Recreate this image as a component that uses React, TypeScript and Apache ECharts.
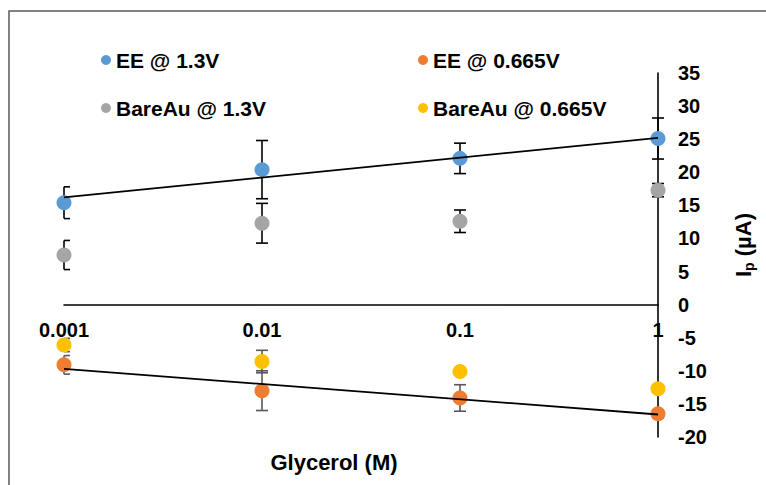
import React, { useEffect, useRef } from "react";
import * as echarts from "echarts";

const xValues = [0.001, 0.01, 0.1, 1];
const xTickLabels = ["0.001", "0.01", "0.1", "1"];

const ee13 = [15.4, 20.4, 22.1, 25.1];
const ee13Err = [2.4, 4.4, 2.3, 3.1];
const ee0665 = [-9.1, -13.0, -14.1, -16.5];
const ee0665Err = [1.4, 3.0, 2.0, 0.6];
const bare13 = [7.5, 12.3, 12.6, 17.3];
const bare13Err = [2.2, 3.0, 1.7, 1.0];
const bare0665 = [-6.1, -8.6, -10.1, -12.7];
const bare0665Err = [1.0, 1.7, 0.5, 0.5];

const trendX = [0.001, 1];
const trendEE13 = [16.2, 25.2];
const trendEE0665 = [-9.7, -16.6];

const seriesNames = ["EE @ 1.3V", "EE @ 0.665V", "BareAu @ 1.3V", "BareAu @ 0.665V"];
const colors = ["#5B9BD5", "#ED7D31", "#A5A5A5", "#FFC000"];

const Y_MIN = -20;
const Y_MAX = 35;
const GRID_TOP = 73;
const GRID_BOTTOM = 48;
const H = 485;

const FONT = "'Liberation Sans', Arial, sans-serif";

function errData(vals: number[], errs: number[]) {
  return xValues.map((x, i) => [x, vals[i] - errs[i], vals[i] + errs[i]]);
}

function errSeries(vals: number[], errs: number[], color: string) {
  return {
    type: "custom",
    silent: true,
    z: 1,
    encode: { x: 0, y: [1, 2] },
    data: errData(vals, errs),
    renderItem: (params: any, api: any) => {
      const x = api.value(0);
      const lo = api.coord([x, api.value(1)]);
      const hi = api.coord([x, api.value(2)]);
      const left = params.coordSys.x;
      const half = 6;
      const x1 = Math.max(lo[0] - half, left);
      const x2 = lo[0] + half;
      const style = { stroke: color, lineWidth: 1.6 };
      return {
        type: "group",
        children: [
          { type: "line", shape: { x1: lo[0], y1: lo[1], x2: hi[0], y2: hi[1] }, style },
          { type: "line", shape: { x1, y1: lo[1], x2, y2: lo[1] }, style },
          { type: "line", shape: { x1, y1: hi[1], x2, y2: hi[1] }, style },
        ],
      };
    },
  };
}

function scatter(name: string, vals: number[], color: string) {
  return {
    name,
    type: "scatter",
    symbol: "circle",
    symbolSize: 15,
    z: 3,
    itemStyle: { color, opacity: 1 },
    data: xValues.map((x, i) => [x, vals[i]]),
  };
}

function trend(vals: number[]) {
  return {
    type: "line",
    silent: true,
    z: 5,
    symbol: "none",
    lineStyle: { color: "#000", width: 1.8 },
    data: trendX.map((x, i) => [x, vals[i]]),
  };
}

export default function App() {
  const ref = useRef<HTMLDivElement>(null);
  useEffect(() => {
    document.body.style.margin = "0";
    const chart = echarts.init(ref.current!, null, { renderer: "svg" });
    const legendText = { fontFamily: FONT, fontWeight: "bold", fontSize: 21, color: "#000", lineHeight: 22 };
    const legendPos = [
      { left: 96, top: 44 },
      { left: 413, top: 44 },
      { left: 96, top: 92 },
      { left: 413, top: 92 },
    ];
    const gridH = H - GRID_TOP - GRID_BOTTOM;
    // move the x axis up from the grid bottom to the y = 0 line
    const zeroOffset = -((0 - Y_MIN) / (Y_MAX - Y_MIN)) * gridH;
    const option: any = {
      animation: false,
      backgroundColor: "#fff",
      grid: { left: 64, right: 108, top: GRID_TOP, bottom: GRID_BOTTOM },
      legend: seriesNames.map((n, i) => ({
        data: [n],
        ...legendPos[i],
        icon: "circle",
        itemWidth: 10,
        itemHeight: 10,
        selectedMode: false,
        textStyle: legendText,
      })),
      xAxis: {
        type: "log",
        logBase: 10,
        min: 0.001,
        max: 1,
        offset: zeroOffset,
        axisLine: { onZero: false, lineStyle: { color: "#000", width: 1.6 } },
        axisTick: { show: false },
        splitLine: { show: false },
        axisLabel: {
          margin: 15,
          fontFamily: FONT,
          fontWeight: "bold",
          fontSize: 20,
          color: "#000",
          formatter: (v: number) => xTickLabels[Math.round(Math.log10(v)) + 3] ?? "",
        },
      },
      yAxis: {
        type: "value",
        position: "right",
        min: Y_MIN,
        max: Y_MAX,
        interval: 5,
        axisLine: { show: true, onZero: false, lineStyle: { color: "#000", width: 1.6 } },
        axisTick: { show: false },
        splitLine: { show: false },
        axisLabel: { margin: 20, fontFamily: FONT, fontWeight: "bold", fontSize: 20, color: "#000" },
      },
      graphic: [
        {
          type: "rect",
          silent: true,
          shape: { x: 9, y: 11, width: 1000, height: 1000 },
          style: { fill: "none", stroke: "#595959", lineWidth: 1.5 },
        },
        {
          type: "text",
          x: 334,
          y: 462,
          style: {
            text: "Glycerol (M)",
            fontFamily: FONT,
            fontWeight: "bold",
            fontSize: 22,
            fill: "#000",
            align: "center",
            verticalAlign: "middle",
          },
        },
        {
          type: "text",
          x: 743,
          y: 245,
          rotation: Math.PI / 2,
          style: {
            text: "{a|I}{b|p}{a| (µA)}",
            align: "center",
            verticalAlign: "middle",
            rich: {
              a: { fontFamily: FONT, fontWeight: "bold", fontSize: 22, fill: "#000", lineHeight: 26 },
              b: { fontFamily: FONT, fontWeight: "bold", fontSize: 14, fill: "#000", lineHeight: 14, verticalAlign: "bottom" },
            },
          },
        },
      ],
      series: [
        errSeries(ee13, ee13Err, "#000"),
        errSeries(bare13, bare13Err, "#000"),
        errSeries(ee0665, ee0665Err, "#595959"),
        errSeries(bare0665, bare0665Err, "#595959"),
        scatter(seriesNames[0], ee13, colors[0]),
        scatter(seriesNames[1], ee0665, colors[1]),
        scatter(seriesNames[2], bare13, colors[2]),
        scatter(seriesNames[3], bare0665, colors[3]),
        trend(trendEE13),
        trend(trendEE0665),
      ],
    };
    chart.setOption(option);
    return () => chart.dispose();
  }, []);
  return <div ref={ref} style={{ width: 766, height: 485 }} />;
}
